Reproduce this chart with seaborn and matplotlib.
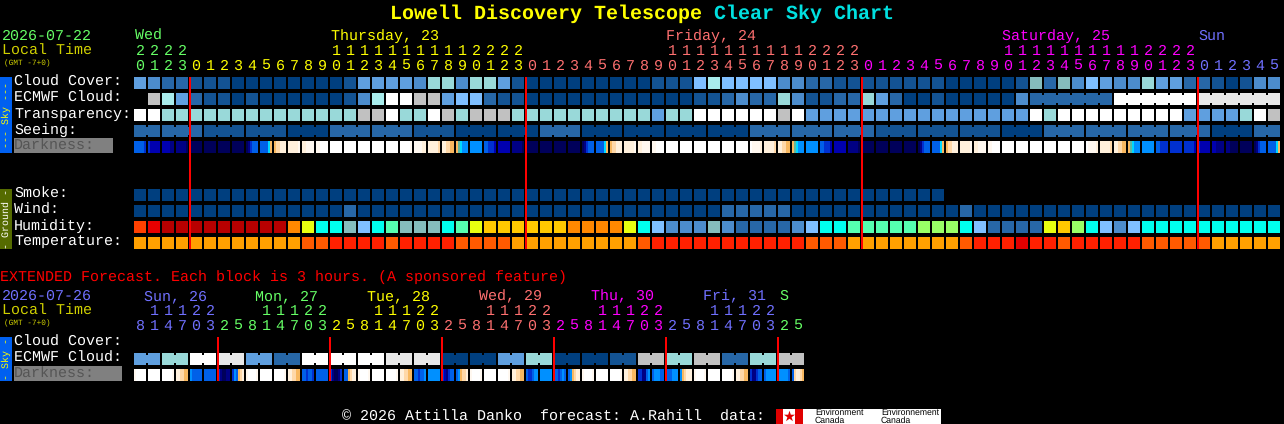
import numpy as np
import matplotlib
matplotlib.use('Agg')
import matplotlib.pyplot as plt
from matplotlib.colors import ListedColormap
from matplotlib.patches import Rectangle
import seaborn as sns

# codigos de cor: 0-9 nuvens, a-m escuridao, resto umidade / temperatura
PALETTE = {
    '0': '#003f7f', '1': '#135393', '2': '#2767a7', '3': '#4c8ccc', '4': '#5f9fdf',
    '5': '#7fbfff', '6': '#99d9d9', '7': '#c1c1c1', '8': '#e8e8e8', '9': '#ffffff',
    'T': '#85bdbd', 'P': '#a8ecec',
    'a': '#00005a', 'b': '#000084', 'c': '#0000b0', 'd': '#0030d0', 'e': '#0060e8',
    'f': '#0090ff', 'g': '#00d8ff', 'h': '#60b8a0', 'i': '#f8b860', 'j': '#ffd8a8',
    'k': '#fff0dc', 'l': '#fff8f0', 'm': '#ffffff',
    'R': '#b80000', 'E': '#e80000', 'O': '#ff4000', 'G': '#ff8800', 'Y': '#ffc800',
    'H': '#e8ff10', 'L': '#99ff66', 'S': '#55ffb0', 'W': '#00ffee',
    'A': '#ffa000', 'B': '#ff5a00', 'C': '#ff2000', 'D': '#e00000',
}

# previsao horaria (82 blocos)
cloud_cover = "4322111000" "0000014444" "3663664100" "0000000111" "5P55553322" "1111111100" "0001T2T354" "336442210133"
ecmwf_cloud = ".7P4211010" "0000013P99" "7745521100" "0000000000" "1123226311" "2264200100" "0003222222" "999999888888"
ecmwf_sizes = [1] * 64 + [6, 6, 6]
transparency = "9966666666" "6666667796" "6976777666" "6666666466" "9999997944" "4444444444" "4444969999" "999994444697"
seeing_groups = "2211022100" "2000022211" "10222202"
seeing_sizes = [2] + [3] * 26 + [2]
darkness = [
    'eeeeed', 'dccccc', 'ccccbb', 'bbbbba', 'aaaaaa', 'aaaaaa', 'aaaaaa', 'aaaaaa', 'abdeee', 'eeeegi',
    'ijjkkk', 'kkkkkl', 'kkllll', 'llmmmm', 'mmmmmm', 'mmmmmm', 'mmmmmm', 'mmmmmm', 'mmmmmm', 'mmmmml',
    'llllkk', 'kkkkkj', 'kkjjii', 'ihgfff', 'ffffff', 'eedddc', 'cccccc', 'bbbbba', 'aaaaaa', 'aaaaaa',
    'aaaaaa', 'aaaaaa', 'abdeee', 'eeeegi', 'ijjkkk', 'kkkkkl', 'kkllll', 'llmmmm', 'mmmmmm', 'mmmmmm',
    'mmmmmm', 'mmmmmm', 'mmmmmm', 'mmmmmm', 'mllllk', 'kkkkkj', 'kkjjii', 'ihgfff', 'ffffff', 'eedddc',
    'cccccc', 'bbbbba', 'aaaaaa', 'aaaaaa', 'aaaaaa', 'aaaaaa', 'abdeee', 'eeeegi', 'ijjkkk', 'kkkkkl',
    'kkllll', 'llmmmm', 'mmmmmm', 'mmmmmm', 'mmmmmm', 'mmmmmm', 'mmmmmm', 'mmmmmm', 'mllllk', 'kkkkkj',
    'kkjjii', 'ihgfff', 'ffffff', 'eedddd', 'dddddd', 'dddddc', 'dccccc', 'ccbbbb', 'bbaaaa', 'aaaaaa',
    'abdeee', 'eeeegi',
]
smoke = "0" * 58 + "." * 24
wind = "0000000000" "0000020000" "0000000000" "0000000000" "0022222000" "0000000002" "0000000000" "000000000000"
humidity = "OERRRRRRRR" "RGHWWT5WST" "TTWSHYYYYY" "YGGGGHW533" "3T3222235W" "WSSSSSLLLW" "5222" "2HYLW" "5" "35" "WWWWWWWWWW"
temperature = "AAAAAAAAAA" "AABBCCCCBC" "CCCBBBBAAA" "AAAAAABCCC" "CCCCCCCCBB" "BAAAAAAAAB" "CCCDCCBCCC" "CCBBBBBAAAAA"

# previsao estendida (48 blocos de 3 horas)
ext_ecmwf = "46" "98" "42" "99" "98" "8" "00" "46" "001" "767" "267"
ext_sizes = [2] * 24
ext_darkness = [
    'lmmmmm', 'mmmmmm', 'mmmmml', 'kkjjii', 'feeeee', 'eeeeee', 'dbaabb', 'dfeijk',
    'lmmmml', 'mmmmmm', 'mmmmml', 'kkjjii', 'eedeed', 'eeeeee', 'dbaabd', 'eeijkk',
    'lmmmml', 'mmmmmm', 'mmmmml', 'kkjjii', 'eedeef', 'ffffff', 'dcbdee', 'efijjk',
    'lmmmml', 'mmmmmm', 'mmmmml', 'kkjjii', 'eddeff', 'ffffff', 'eedefe', 'efijkk',
    'lmmmml', 'mmmmmm', 'mmmmml', 'kkjjii', 'ddbbef', 'efffee', 'eeefff', 'fijkkk',
    'lmmmml', 'mmmmmm', 'mmmmml', 'kkjjii', 'dbbdee', 'efffff', 'fffffe', 'ejkkji',
]

# rotulos de hora, uma letra por bloco
top_units = "0123" + "012345678901234567890123" * 3 + "012345"
top_tens = "2222" + "          11111111112222" * 3 + "      "
ext_units = "814703" + "25814703" * 5 + "25"
ext_tens = " 11122" + "   11122" * 5 + "  "

GREEN, YELLOW, SALMON, MAGENTA, BLUE = '#66ff66', '#ffff00', '#ff7070', '#ff00ff', '#7070ff'
top_day_colors = [GREEN] * 4 + [YELLOW] * 24 + [SALMON] * 24 + [MAGENTA] * 24 + [BLUE] * 6
ext_day_colors = [BLUE] * 6 + [GREEN] * 8 + [YELLOW] * 8 + [SALMON] * 8 + [MAGENTA] * 8 + [BLUE] * 8 + [GREEN] * 2
top_days = [('Wed', 135, GREEN), ('Thursday, 23', 331, YELLOW), ('Friday, 24', 666, SALMON),
            ('Saturday, 25', 1002, MAGENTA), ('Sun', 1198, BLUE)]
ext_days = [('Sun, 26', 144, BLUE), ('Mon, 27', 255, GREEN), ('Tue, 28', 367, YELLOW),
            ('Wed, 29', 479, SALMON), ('Thu, 30', 591, MAGENTA), ('Fri, 31', 703, BLUE), ('S', 779, GREEN)]
top_midnights = [4, 28, 52, 76]
ext_midnights = [6, 14, 22, 30, 38, 46]

W, H = 1284, 424
CODES = list(PALETTE)
CMAP = ListedColormap(list(PALETTE.values()))
PITCH = 14


def codigo(c):
    return np.nan if c == '.' else CODES.index(c)


# um bloco = 6x6 celulas de 2px, e uma coluna de vao entre blocos
def linha_blocos(valores, grupos=None):
    n = len(valores)
    grade = np.full((8, n * 7 - 1), np.nan)
    for i, v in enumerate(valores):
        pedacos = v if len(v) == 6 else v * 6
        for j, c in enumerate(pedacos):
            grade[:6, i * 7 + j] = codigo(c)
    # pontes entre blocos do mesmo grupo
    if grupos is not None:
        i = 0
        for tam in grupos:
            for k in range(i, i + tam - 1):
                grade[1:5, k * 7 + 6] = codigo(valores[k])
            i += tam
    return grade


def painel(fig, x, y, linhas):
    grade = np.vstack(linhas)[:-2]
    alt, larg = grade.shape[0] * 2, grade.shape[1] * 2
    ax = fig.add_axes([x / W, 1 - (y + alt) / H, larg / W, alt / H])
    ax.set_facecolor('black')
    sns.heatmap(grade, ax=ax, mask=np.isnan(grade), cmap=CMAP, vmin=-0.5, vmax=len(CODES) - 0.5,
                cbar=False, xticklabels=False, yticklabels=False)
    return ax


sns.set_theme(style='white')
plt.rcParams['font.family'] = ['Liberation Mono', 'DejaVu Sans Mono']
plt.rcParams['text.hinting'] = 'no_hinting'

fig = plt.figure(figsize=(W / 100, H / 100), dpi=100, facecolor='black')

seeing = np.repeat(list(seeing_groups), seeing_sizes)
painel(fig, 134, 77, [linha_blocos(cloud_cover), linha_blocos(ecmwf_cloud, ecmwf_sizes),
                      linha_blocos(transparency), linha_blocos(seeing, seeing_sizes),
                      linha_blocos(darkness)])
painel(fig, 134, 189, [linha_blocos(smoke), linha_blocos(wind), linha_blocos(humidity),
                       linha_blocos(temperature)])
ext_cloud = np.repeat(list(ext_ecmwf), ext_sizes)
painel(fig, 134, 353, [linha_blocos(ext_cloud, ext_sizes), linha_blocos(ext_darkness)])

# camada de texto em coordenadas de pixel
ov = fig.add_axes([0, 0, 1, 1], facecolor='none', zorder=5)
ov.set_xlim(0, W)
ov.set_ylim(H, 0)
ov.axis('off')


def escreve(x, y, s, cor='white', tam=10.8, **kw):
    ov.text(x, y, s, color=cor, fontsize=tam, va='baseline', **kw)


escreve(390, 19, 'Lowell Discovery Telescope', YELLOW, 14.4, fontweight='bold')
escreve(714, 19, 'Clear Sky Chart', '#00e0e0', 14.4, fontweight='bold')

# barras laterais
for y0, y1, cor in [(77, 153, '#0060f0'), (189, 249, '#556b00'), (337, 381, '#0060f0')]:
    ov.add_patch(Rectangle((0, y0), 12, y1 - y0, color=cor, lw=0))
ov.text(6, 115, '--- Sky ---', color=YELLOW, fontsize=7.2, rotation=90, ha='center', va='center')
ov.text(6, 219, '- Ground -', color='white', fontsize=7.2, rotation=90, ha='center', va='center')
ov.text(6, 359, '- Sky -', color=YELLOW, fontsize=7.2, rotation=90, ha='center', va='center')

# nomes das linhas
for y, nome in zip([86, 102, 118, 134], ['Cloud Cover:', 'ECMWF Cloud:', 'Transparency:', 'Seeing:']):
    escreve(14, y, nome)
for y, nome in zip([198, 214, 230, 246], ['Smoke:', 'Wind:', 'Humidity:', 'Temperature:']):
    escreve(14, y, nome)
escreve(14, 346, 'Cloud Cover:')
escreve(14, 362, 'ECMWF Cloud:')
ov.add_patch(Rectangle((14, 138), 99, 15, color='#808080', lw=0))
ov.add_patch(Rectangle((14, 366), 108, 15, color='#808080', lw=0))
escreve(14, 150, 'Darkness:', '#555555')
escreve(14, 378, 'Darkness:', '#555555')

# cabecalhos de data
for y, data, cor in [(40, '2026-07-22', GREEN), (300, '2026-07-26', BLUE)]:
    escreve(2, y, data, cor)
    escreve(2, y + 15, 'Local Time', '#d0d000')
    escreve(4, y + 25, '(GMT -7+0)', '#d0d000', 5.6)
for nome, x, cor in top_days:
    escreve(x, 40, nome, cor)
for nome, x, cor in ext_days:
    escreve(x, 300, nome, cor)
for i, (d, u, cor) in enumerate(zip(top_tens, top_units, top_day_colors)):
    escreve(140 + PITCH * i, 55, d, cor, ha='center')
    escreve(140 + PITCH * i, 70, u, cor, ha='center')
for i, (d, u, cor) in enumerate(zip(ext_tens, ext_units, ext_day_colors)):
    escreve(140 + PITCH * i, 315, d, cor, ha='center')
    escreve(140 + PITCH * i, 330, u, cor, ha='center')

# linhas vermelhas da meia-noite
ov.vlines([134 + PITCH * i for i in top_midnights], 77, 249, color='red', lw=1.44, antialiased=False)
ov.vlines([134 + PITCH * i for i in ext_midnights], 337, 381, color='red', lw=1.44, antialiased=False)

escreve(0, 281, 'EXTENDED Forecast. Each block is 3 hours. (A sponsored feature)', 'red')

# rodape
escreve(342, 421, '\u00a9 2026 Attilla Danko  forecast: A.Rahill  data:')
ov.add_patch(Rectangle((776, 409), 165, 15, color='white', lw=0))
ov.add_patch(Rectangle((776, 409), 7, 15, color='#e00000', lw=0))
ov.add_patch(Rectangle((795, 409), 8, 15, color='#e00000', lw=0))
ov.scatter([789], [416], marker='*', s=70, color='#e00000', lw=0)
for x, nome in [(815, 'Environment'), (881, 'Environnement')]:
    ov.text(x, 415, nome, color='black', fontsize=6.2, family='Liberation Sans', va='baseline')
    ov.text(x, 423, 'Canada', color='black', fontsize=6.2, family='Liberation Sans', va='baseline')

fig.savefig('out.png', dpi=100, facecolor='black')
